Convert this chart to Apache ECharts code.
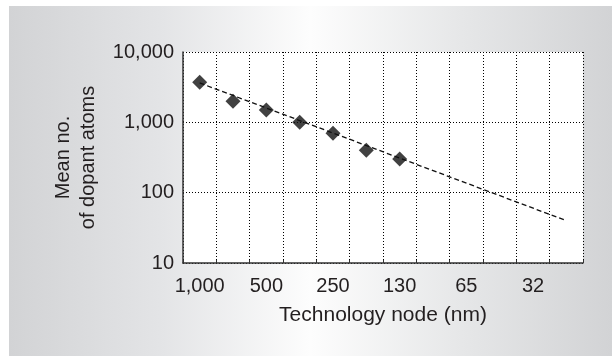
<!DOCTYPE html>
<html>
<head>
<meta charset="utf-8">
<script src="https://cdn.jsdelivr.net/npm/echarts@6/dist/echarts.min.js"></script>
<style>
html,body{margin:0;padding:0;background:#ffffff;}
#c{width:612px;height:356px;}
</style>
</head>
<body>
<div id="c"></div>
<script>
// Technology nodes (nm); only every other one is labelled in the reference
var categories = ['1,000', '700', '500', '350', '250', '180', '130', '90', '65', '45', '32', '22'];
// Mean number of dopant atoms
var dopantAtoms = [3700, 2000, 1500, 1000, 700, 400, 300];
// Trend line end points: [category index, value]
var trendLine = [[0, 3630], [11, 40]];
var yTicks = [10, 100, 1000, 10000];

var chart = echarts.init(document.getElementById('c'), null, {renderer: 'canvas'});
var FONT = '"Liberation Sans", Arial, Helvetica, sans-serif';
var TXT = '#231f20';

chart.setOption({
  animation: false,
  graphic: [{
    type: 'rect',
    left: 9, top: 6, z: -10,
    shape: {width: 603, height: 350},
    style: {
      fill: new echarts.graphic.LinearGradient(0, 0, 1, 0, [
        {offset: 0, color: '#d2d3d5'},
        {offset: 0.25, color: '#e3e4e6'},
        {offset: 0.5, color: '#fdfdfd'},
        {offset: 0.75, color: '#e6e7e8'},
        {offset: 1, color: '#d2d3d5'}
      ])
    },
    silent: true
  }],
  grid: {
    left: 183, top: 52, width: 400, height: 211,
    show: true, backgroundColor: '#ffffff', borderWidth: 0,
    containLabel: false
  },
  xAxis: {
    type: 'category',
    data: categories,
    boundaryGap: true,
    name: 'Technology node (nm)',
    nameLocation: 'middle',
    nameGap: 42,
    nameTextStyle: {fontFamily: FONT, fontSize: 21, color: TXT},
    axisLine: {show: true, lineStyle: {color: '#333333', width: 1.5}},
    axisTick: {show: true, inside: true, length: 3, interval: 0, lineStyle: {color: '#333333'}},
    axisLabel: {interval: 1, margin: 13, fontFamily: FONT, fontSize: 20, color: TXT},
    splitLine: {show: true, interval: 0, lineStyle: {color: '#000000', width: 1, type: [1, 2]}}
  },
  yAxis: {
    type: 'log',
    logBase: 10,
    min: 10,
    max: 10000,
    name: 'Mean no.\nof dopant atoms',
    nameLocation: 'middle',
    nameGap: 82,
    nameRotate: 90,
    nameTextStyle: {fontFamily: FONT, fontSize: 20, lineHeight: 25, color: TXT},
    axisLine: {show: true, lineStyle: {color: '#333333', width: 1.5}},
    axisTick: {show: false},
    axisLabel: {
      margin: 9, fontFamily: FONT, fontSize: 20, color: TXT,
      formatter: function (v) { return Math.round(v).toLocaleString('en-US'); }
    },
    splitLine: {show: true, lineStyle: {color: '#000000', width: 1, type: [1, 2]}}
  },
  series: [
    {
      type: 'line',
      data: trendLine,
      symbol: 'none',
      lineStyle: {color: '#111111', width: 1.3, type: [5, 3]},
      z: 2
    },
    {
      type: 'scatter',
      data: dopantAtoms,
      symbol: 'diamond',
      symbolSize: 15,
      itemStyle: {color: '#111111'},
      z: 3
    }
  ]
});
</script>
</body>
</html>
